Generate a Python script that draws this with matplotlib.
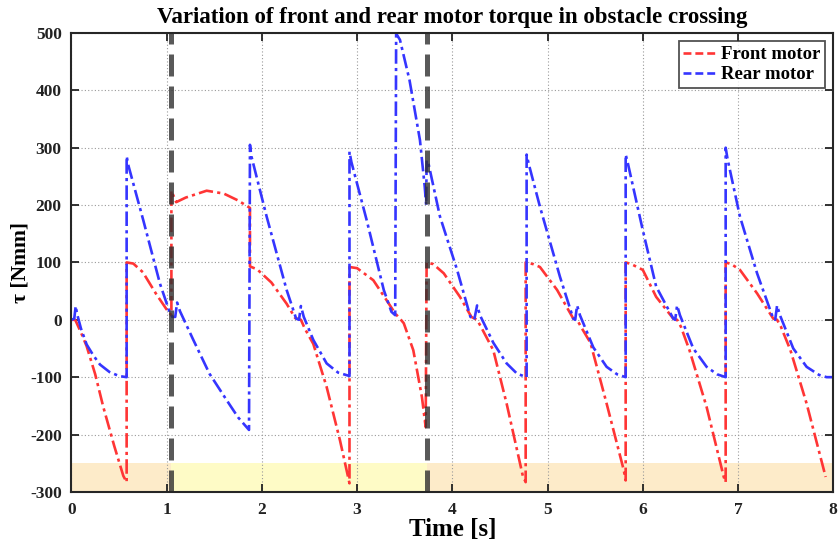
import matplotlib
matplotlib.use("Agg")
import matplotlib.pyplot as plt

# ---- data ----
front_t = [0.00, 0.04, 0.10, 0.16, 0.25, 0.335, 0.45, 0.545, 0.58,
           0.58, 0.65, 0.75, 0.89, 1.00, 1.05,
           1.05, 1.10, 1.20, 1.42, 1.60, 1.75, 1.875,
           1.875, 1.95, 2.10, 2.26, 2.35, 2.41, 2.45, 2.54, 2.68, 2.82, 2.92,
           2.92, 3.00, 3.17, 3.31, 3.40, 3.45, 3.49, 3.59, 3.68, 3.72,
           3.73, 3.80, 3.91, 4.08, 4.20, 4.26, 4.30, 4.43, 4.57, 4.74, 4.77,
           4.77, 4.85, 4.92, 5.10, 5.27, 5.31, 5.35, 5.45, 5.62, 5.80, 5.82,
           5.82, 5.88, 6.00, 6.14, 6.32, 6.36, 6.40, 6.49, 6.67, 6.85, 6.87,
           6.87, 6.93, 7.02, 7.20, 7.37, 7.41, 7.45, 7.55, 7.72, 7.92]
front_v = [0, 0, -22, -46, -95, -152, -220, -272, -283,
           100, 98, 83, 45, 18, 8,
           225, 205, 213, 225, 220, 208, 195,
           93, 88, 65, 28, 3, 0, -15, -42, -117, -210, -285,
           92, 90, 69, 34, 11, 2, -6, -53, -134, -187,
           100, 97, 81, 40, 5, 0, -12, -53, -146, -272, -283,
           100, 97, 92, 52, 2, 0, -12, -40, -146, -262, -280,
           100, 97, 87, 40, 2, 0, -12, -53, -152, -274, -283,
           100, 97, 87, 46, 2, 0, -12, -53, -146, -274]

rear_t = [0.00, 0.03, 0.045, 0.06, 0.10, 0.16, 0.23, 0.30, 0.40, 0.50, 0.58,
          0.58, 0.60, 0.754, 0.93, 1.03, 1.06, 1.09, 1.11, 1.14, 1.28, 1.45, 1.63, 1.75, 1.865,
          1.875, 1.89, 2.05, 2.26, 2.36, 2.39, 2.41, 2.44, 2.54, 2.68, 2.80, 2.92,
          2.92, 2.94, 3.10, 3.28, 3.36, 3.40,
          3.41, 3.45, 3.55, 3.66, 3.71, 3.725,
          3.73, 3.75, 3.87, 4.05, 4.19, 4.23, 4.26, 4.29, 4.43, 4.57, 4.68, 4.78,
          4.78, 4.80, 4.92, 5.13, 5.27, 5.29, 5.31, 5.34, 5.48, 5.62, 5.73, 5.82,
          5.82, 5.84, 6.00, 6.14, 6.32, 6.34, 6.36, 6.39, 6.53, 6.67, 6.78, 6.87,
          6.87, 6.89, 7.02, 7.20, 7.37, 7.39, 7.41, 7.44, 7.58, 7.72, 7.85, 7.93, 8.00]
rear_v = [0, 2, 24, 10, -15, -43, -62, -78, -91, -98, -100,
          285, 268, 174, 63, 14, 5, 5, 30, 15, -35, -94, -140, -170, -192,
          305, 285, 180, 52, 2, 0, 24, 5, -35, -76, -92, -98,
          293, 275, 174, 52, 14, 8,
          499, 488, 418, 313, 232, 200,
          278, 272, 180, 87, 5, 0, 25, 8, -40, -76, -94, -100,
          288, 273, 197, 75, 2, 0, 25, 8, -48, -82, -95, -100,
          288, 275, 156, 58, 2, 0, 25, 8, -50, -82, -95, -100,
          300, 280, 180, 81, 2, 0, 25, 8, -50, -82, -96, -100, -100]

event_times = [1.05, 3.73]
band_low, band_high = -300, -250
band_edges = [0, 1.05, 3.73, 8]
band_colors = ['#fdebc9', '#fefbc6', '#fdebc9']

x_ticks = [0, 1, 2, 3, 4, 5, 6, 7, 8]
y_ticks = [-300, -200, -100, 0, 100, 200, 300, 400, 500]

# ---- plot ----
plt.rcParams['font.family'] = ['Liberation Serif', 'DejaVu Serif']
plt.rcParams['font.weight'] = 'bold'
plt.rcParams['axes.unicode_minus'] = False

fig = plt.figure(figsize=(8.4, 5.49), dpi=100)
ax = fig.add_axes([0.085, 0.104, 0.907, 0.836])

for i, c in enumerate(band_colors):
    ax.axvspan(band_edges[i], band_edges[i + 1], ymin=0,
               ymax=(band_high - band_low) / 800.0, color=c, lw=0, zorder=0)

ax.plot(front_t, front_v, color='#ff3535', lw=1.9,
        linestyle=(0, (5.5, 1.6, 1.2, 1.6)), label='Front motor', zorder=3)
ax.plot(rear_t, rear_v, color='#3535ff', lw=1.9,
        linestyle=(0, (5.5, 1.6, 1.2, 1.6)), label='Rear motor', zorder=3)

for et in event_times:
    ax.axvline(et, color='#303030', alpha=0.8, lw=3.6,
               linestyle=(0, (4.4, 2.0)), zorder=4)

ax.set_xlim(0, 8)
ax.set_ylim(-300, 500)
ax.set_xticks(x_ticks)
ax.set_yticks(y_ticks)
ax.grid(True, linestyle=(0, (1, 2)), color='#9a9a9a', lw=0.8, zorder=1)
ax.tick_params(direction='in', top=True, right=True, length=6, width=1.3,
               labelsize=12.5, colors='#222222', pad=7)
for lab in ax.get_xticklabels() + ax.get_yticklabels():
    lab.set_fontweight('bold')
for sp in ax.spines.values():
    sp.set_linewidth(1.5)
    sp.set_color('#262626')
    sp.set_zorder(5)

ax.set_title('Variation of front and rear motor torque in obstacle crossing',
             fontsize=16.5, fontweight='bold', pad=7.5)
ax.set_xlabel('Time [s]', fontsize=18, fontweight='bold', labelpad=0)
ax.set_ylabel('τ [Nmm]', fontsize=15.5, fontweight='bold')
ax.yaxis.set_label_coords(-0.054, 0.5)

leg = ax.legend(loc='upper right', fontsize=13.5, frameon=True, fancybox=False,
                edgecolor='#262626', handlelength=1.8, handletextpad=0.2,
                borderpad=0.25, labelspacing=0.15, borderaxespad=0.45)
leg.get_frame().set_linewidth(1.3)
for line in leg.get_lines():
    line.set_linestyle((0, (3, 1.5)))
leg.set_zorder(6)

fig.savefig('out.png', dpi=100)
